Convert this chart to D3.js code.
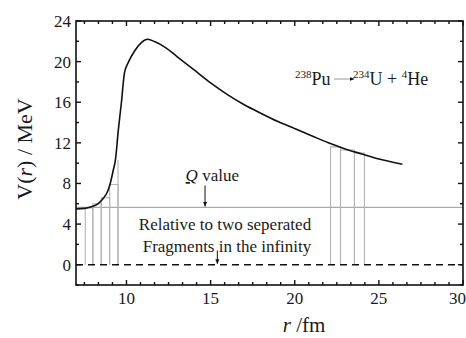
<!DOCTYPE html>
<html lang="en">
<head>
  <meta charset="UTF-8">
  <title>Alpha decay potential</title>
  <script src="https://d3js.org/d3.v7.min.js"></script>
  <style>
    body {
      margin: 0;
      padding: 0;
      background: #fff;
    }
    svg {
      display: block;
      font-family: "Liberation Serif", "DejaVu Serif", serif;
    }
  </style>
</head>
<body>
  <svg width="466" height="338"></svg>

  <script>
    // potential curve V(r)
    const curveR = [7.0, 7.5, 7.9, 8.3, 8.6, 8.9, 9.05, 9.2, 9.35, 9.5, 9.7, 9.88, 10.1, 10.5, 10.9, 11.25,
                    11.7, 12.3, 13.0, 14.0, 15.0, 16.0, 17.0, 18.0, 19.0, 20.0, 21.0, 22.0, 23.0, 24.0, 25.0, 26.4];
    const curveV = [5.5, 5.55, 5.7, 6.0, 6.5, 7.3, 8.1, 9.2, 10.4, 13.0, 16.0, 18.9, 19.9, 21.1, 21.9, 22.2,
                    21.95, 21.4, 20.5, 19.2, 17.9, 16.75, 15.75, 14.9, 14.1, 13.4, 12.7, 12.0, 11.4, 10.9, 10.4, 9.9];

    // grey step bars under the barrier: [r from, r to, height]
    const innerBars = [[7.55, 8.0, 5.6], [8.0, 8.5, 6.0], [8.5, 9.0, 6.6], [9.0, 9.5, 7.9], [9.5, 9.5, 10.3]];
    const outerBars = [[22.13, 22.72, 11.6], [22.72, 23.55, 11.3], [23.55, 24.14, 11.0]];

    const qValue = 5.65;

    const xTicks = [10, 15, 20, 25, 30];
    const yTicks = [0, 4, 8, 12, 16, 20, 24];

    const width = 466, height = 338;
    const margin = {left: 76, right: 3, top: 21, bottom: 53};

    const svg = d3.select("svg");

    const x = d3.scaleLinear().domain([7, 30]).range([margin.left, width - margin.right]);
    const y = d3.scaleLinear().domain([-2, 24]).range([height - margin.bottom, margin.top]);

    const x0 = x.range()[0], x1 = x.range()[1];
    const y0 = y.range()[0], y1 = y.range()[1];

    svg.append("defs").append("marker")
      .attr("id", "head")
      .attr("viewBox", "0 0 10 10")
      .attr("refX", 9).attr("refY", 5)
      .attr("markerWidth", 5).attr("markerHeight", 5)
      .attr("orient", "auto")
      .append("path")
      .attr("d", "M0,1L10,5L0,9Z")
      .attr("fill", "#111");

    // Q value line
    svg.append("line")
      .attr("x1", x0).attr("x2", x1)
      .attr("y1", y(qValue)).attr("y2", y(qValue))
      .attr("stroke", "#aaa").attr("stroke-width", 1.2);

    // bars
    const bars = innerBars.concat(outerBars);
    svg.append("g").selectAll("path")
      .data(bars)
      .enter().append("path")
      .attr("d", d => `M${x(d[0])},${y(0)}V${y(d[2])}H${x(d[1])}V${y(0)}`)
      .attr("fill", "none")
      .attr("stroke", "#b4b4b4")
      .attr("stroke-width", 1.1);

    // dashed zero line
    svg.append("line")
      .attr("x1", x0).attr("x2", x1)
      .attr("y1", y(0)).attr("y2", y(0))
      .attr("stroke", "#111").attr("stroke-width", 1.4)
      .attr("stroke-dasharray", "7,5");

    // curve
    const line = d3.line()
      .x((d, i) => x(curveR[i]))
      .y(d => y(d))
      .curve(d3.curveMonotoneX);

    svg.append("path")
      .attr("d", line(curveV))
      .attr("fill", "none")
      .attr("stroke", "#111")
      .attr("stroke-width", 1.6);

    // axes: frame with inward ticks
    const minorX = d3.range(10 - 3 * 5 / 6, 30.01, 5 / 6).filter(v => v > 7.05);
    const minorY = d3.range(-2, 24.01, 2);

    const axG = svg.append("g").attr("stroke", "#111").attr("stroke-width", 1.4);

    function tick(xa, ya, xb, yb) {
      axG.append("line").attr("x1", xa).attr("y1", ya).attr("x2", xb).attr("y2", yb);
    }

    minorX.forEach(v => {
      const major = Math.abs(v - Math.round(v / 5) * 5) < 0.01;
      const len = major ? 5 : 3;
      tick(x(v), y0, x(v), y0 - len);
      tick(x(v), y1, x(v), y1 + len);
    });
    minorY.forEach(v => {
      const major = v % 4 === 0;
      const len = major ? 5 : 3;
      tick(x0, y(v), x0 + len, y(v));
      tick(x1, y(v), x1 - len, y(v));
    });

    svg.append("rect")
      .attr("x", x0).attr("y", y1)
      .attr("width", x1 - x0).attr("height", y0 - y1)
      .attr("fill", "none")
      .attr("stroke", "#111")
      .attr("stroke-width", 1.6);

    // tick labels
    svg.append("g").selectAll("text")
      .data(xTicks)
      .enter().append("text")
      .attr("x", d => d === 30 ? width : x(d))
      .attr("y", y0 + 19)
      .attr("text-anchor", d => d === 30 ? "end" : "middle")
      .attr("font-size", 17)
      .attr("fill", "#1a1a1a")
      .text(d => d);

    svg.append("g").selectAll("text")
      .data(yTicks)
      .enter().append("text")
      .attr("x", x0 - 5)
      .attr("y", d => y(d) + 6)
      .attr("text-anchor", "end")
      .attr("font-size", 17)
      .attr("fill", "#1a1a1a")
      .text(d => d);

    // axis titles
    const yTitle = svg.append("text")
      .attr("transform", `translate(32,${(y0 + y1) / 2 - 4}) rotate(-90)`)
      .attr("text-anchor", "middle")
      .attr("font-size", 22)
      .attr("fill", "#1a1a1a");
    yTitle.append("tspan").text("V(");
    yTitle.append("tspan").attr("font-style", "italic").text("r");
    yTitle.append("tspan").text(") / MeV");

    const xTitle = svg.append("text")
      .attr("x", 304).attr("y", 332)
      .attr("text-anchor", "middle")
      .attr("font-size", 21)
      .attr("fill", "#1a1a1a");
    xTitle.append("tspan").attr("font-style", "italic").text("r");
    xTitle.append("tspan").text(" /fm");

    // annotations
    const qText = svg.append("text")
      .attr("x", x(15.1)).attr("y", 181)
      .attr("text-anchor", "middle")
      .attr("font-size", 17)
      .attr("fill", "#1a1a1a");
    qText.append("tspan").attr("font-style", "italic").attr("text-decoration", "underline").text("Q");
    qText.append("tspan").text(" value");

    svg.append("line")
      .attr("x1", x(14.67)).attr("x2", x(14.67))
      .attr("y1", y(7.8)).attr("y2", y(qValue) - 1)
      .attr("stroke", "#111").attr("stroke-width", 1)
      .attr("marker-end", "url(#head)");

    svg.append("text")
      .attr("x", 225).attr("y", 230)
      .attr("text-anchor", "middle")
      .attr("font-size", 17)
      .attr("fill", "#1a1a1a")
      .text("Relative to two seperated");
    svg.append("text")
      .attr("x", 227).attr("y", 252)
      .attr("text-anchor", "middle")
      .attr("font-size", 17)
      .attr("fill", "#1a1a1a")
      .text("Fragments in the infinity");

    svg.append("line")
      .attr("x1", x(15.4)).attr("x2", x(15.4))
      .attr("y1", y(1.4)).attr("y2", y(0) - 1)
      .attr("stroke", "#111").attr("stroke-width", 1)
      .attr("marker-end", "url(#head)");

    // reaction label
    const re = svg.append("text")
      .attr("x", 295).attr("y", 85)
      .attr("font-size", 18)
      .attr("fill", "#1a1a1a");
    re.append("tspan").attr("font-size", 11).attr("dy", -7).text("238");
    re.append("tspan").attr("dy", 7).text("Pu");
    re.append("tspan").text("\u00a0\u00a0\u00a0\u00a0\u00a0");
    re.append("tspan").attr("font-size", 11).attr("dy", -7).text("234");
    re.append("tspan").attr("dy", 7).text("U + ");
    re.append("tspan").attr("font-size", 11).attr("dy", -7).text("4");
    re.append("tspan").attr("dy", 7).text("He");

    svg.append("line")
      .attr("x1", 334).attr("x2", 354)
      .attr("y1", 79).attr("y2", 79)
      .attr("stroke", "#999").attr("stroke-width", 1)
      .attr("marker-end", "url(#head)");
  </script>
</body>
</html>
